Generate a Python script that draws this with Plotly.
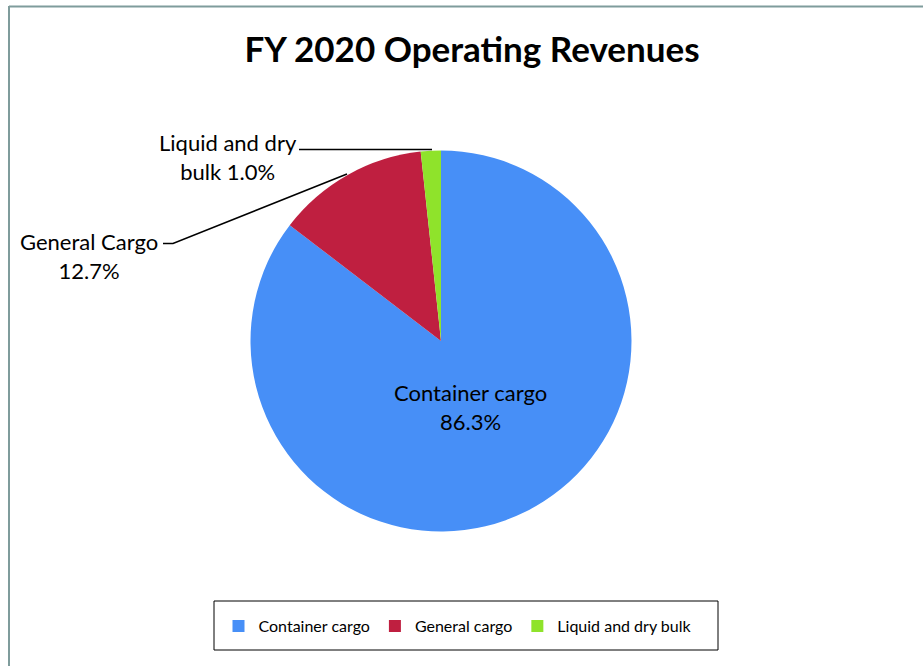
import plotly.graph_objects as go

categories = ["Container cargo", "General cargo", "Liquid and dry bulk"]
values = [85.4, 12.9, 1.7]          # slice sizes as drawn
pct_labels = ["86.3%", "12.7%", "1.0%"]  # percentages printed on the chart
colors = ["#478ff7", "#bf1f40", "#8fe32b"]

W, H = 923, 666
FONT = "Lato"

def px(x):
    return x / W

def py(y):
    return 1 - y / H

fig = go.Figure()
fig.add_trace(go.Pie(
    labels=categories,
    values=values,
    sort=False,
    direction="clockwise",
    rotation=0,
    marker=dict(colors=colors, line=dict(width=0)),
    textinfo="none",
    hoverinfo="label+percent",
    domain=dict(x=[px(441 - 190.5), px(441 + 190.5)], y=[py(341 + 190.5), py(341 - 190.5)]),
    showlegend=True,
))

shapes = [
    # outer chart border
    dict(type="line", xref="paper", yref="paper", x0=px(9), x1=px(930), y0=py(6.5), y1=py(6.5),
         line=dict(color="#7f9c9c", width=2)),
    dict(type="line", xref="paper", yref="paper", x0=px(9), x1=px(9), y0=py(6), y1=py(670),
         line=dict(color="#7f9c9c", width=2)),
    # legend box
    dict(type="rect", xref="paper", yref="paper", x0=px(214), x1=px(718), y0=py(601), y1=py(650),
         line=dict(color="#000000", width=1), fillcolor="rgba(0,0,0,0)"),
    # leader lines
    dict(type="path", xref="paper", yref="paper",
         path=f"M {px(299)},{py(149.5)} L {px(432)},{py(149.5)}",
         line=dict(color="#000000", width=1.6)),
    dict(type="path", xref="paper", yref="paper",
         path=f"M {px(163)},{py(243.5)} L {px(173)},{py(243.5)} L {px(347)},{py(174)}",
         line=dict(color="#000000", width=1.6)),
]

lab_font = dict(family=FONT, size=22, color="#000000")
annotations = [
    dict(text=f"{categories[0]}<br>{pct_labels[0]}", x=px(470), y=py(407), xref="paper", yref="paper",
         showarrow=False, font=lab_font, align="center", xanchor="center", yanchor="middle"),
    dict(text=f"Liquid and dry<br>bulk {pct_labels[2]}", x=px(228), y=py(157), xref="paper", yref="paper",
         showarrow=False, font=lab_font, align="center", xanchor="center", yanchor="middle"),
    dict(text=f"General Cargo<br>{pct_labels[1]}", x=px(89), y=py(255.5), xref="paper", yref="paper",
         showarrow=False, font=lab_font, align="center", xanchor="center", yanchor="middle"),
]

fig.update_layout(
    width=W, height=H,
    margin=dict(l=0, r=0, t=0, b=0),
    paper_bgcolor="#ffffff",
    title=dict(text="<b>FY 2020 Operating Revenues</b>", x=px(472), xanchor="center",
               y=py(50), yanchor="middle",
               font=dict(family=FONT, size=35, color="#000000")),
    legend=dict(orientation="h", x=px(458), xanchor="center", y=py(626), yanchor="middle",
                font=dict(family=FONT, size=16, color="#000000"),
                bgcolor="rgba(0,0,0,0)", borderwidth=0, itemclick=False,
                traceorder="normal", itemwidth=30),
    shapes=shapes,
    annotations=annotations,
)

fig.write_html("out.html", config={"displayModeBar": False},
               post_script="document.body.style.margin='0';")
